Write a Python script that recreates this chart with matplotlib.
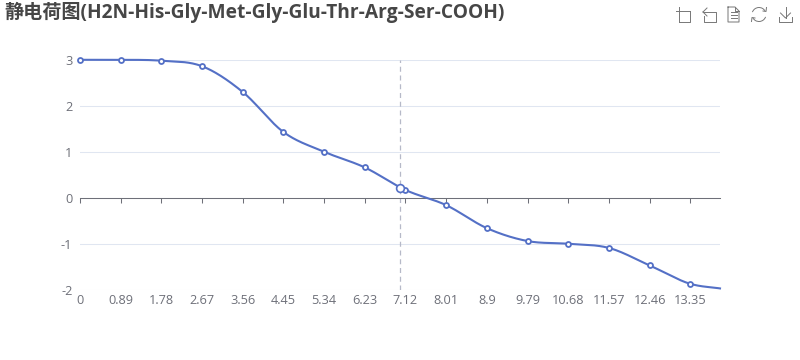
import numpy as np
import matplotlib
matplotlib.use("Agg")
import matplotlib.pyplot as plt
from matplotlib.patches import Arc
from matplotlib.lines import Line2D

plt.rcParams['font.family'] = ['Open Sans', 'Noto Sans CJK SC', 'DejaVu Sans']
plt.rcParams['axes.unicode_minus'] = False

title = "静电荷图(H2N-His-Gly-Met-Gly-Glu-Thr-Arg-Ser-COOH)"
ph = [0, 0.89, 1.78, 2.67, 3.56, 4.45, 5.34, 6.23, 7.12, 8.01, 8.9, 9.79, 10.68, 11.57, 12.46, 13.35, 14]
charge = [3, 3.0, 2.98, 2.86, 2.30, 1.43, 1.0, 0.66, 0.17, -0.16, -0.66, -0.94, -1.0, -1.09, -1.47, -1.87, -1.97]
tick_labels = ["0", "0.89", "1.78", "2.67", "3.56", "4.45", "5.34", "6.23", "7.12", "8.01", "8.9", "9.79", "10.68", "11.57", "12.46", "13.35"]
y_ticks = [-2, -1, 0, 1, 2, 3]
hover_ph = 7.0
hover_charge = 0.22

LINE = "#5470c6"
GREY = "#6e7079"
GRID = "#e0e6f1"
W, H = 800, 360

fig = plt.figure(figsize=(W / 100, H / 100), dpi=100)
ax = fig.add_axes([80 / W, 1 - 289.8 / H, 640 / W, 230 / H])
ax.set_xlim(0, 14)
ax.set_ylim(-2, 3)

for s in ["top", "left", "right"]:
    ax.spines[s].set_visible(False)
ax.spines["bottom"].set_position(("data", 0))
ax.spines["bottom"].set_color(GREY)
ax.spines["bottom"].set_linewidth(0.75)

ax.set_yticks(y_ticks)
ax.set_xticks(ph[:-1])
ax.set_xticklabels(tick_labels)
ax.tick_params(axis="y", length=0, pad=5.5, labelsize=9.2, labelcolor=GREY)
ax.tick_params(axis="x", length=3.6, width=0.75, color=GREY, pad=65.5, labelsize=9.2, labelcolor=GREY)
ax.grid(axis="y", color=GRID, linewidth=0.75)
ax.set_axisbelow(True)

# smooth line: bezier segments sampled finely, agg's own curve flattening looks kinked
x = np.array(ph)
y = np.array(charge)
dx = np.gradient(x)
dy = np.gradient(y, x) * dx
k = 1 / 3
t = np.linspace(0, 1, 40)[:, None]
curve = []
for i in range(len(x) - 1):
    p0 = np.array([x[i], y[i]])
    p1 = p0 + k * np.array([dx[i], dy[i]])
    p3 = np.array([x[i + 1], y[i + 1]])
    p2 = p3 - k * np.array([dx[i + 1], dy[i + 1]])
    curve.append((1 - t) ** 3 * p0 + 3 * (1 - t) ** 2 * t * p1 + 3 * (1 - t) * t ** 2 * p2 + t ** 3 * p3)
curve = np.vstack(curve)
ax.plot(curve[:, 0], curve[:, 1], color=LINE, linewidth=1.5, zorder=3, clip_on=False)

ax.axvline(hover_ph, color="#b6b9c8", linewidth=0.9, linestyle=(0, (4, 3)), zorder=2)
ax.plot(ph[:-1], charge[:-1], linestyle="none", marker="o", markersize=3.6, markerfacecolor="white",
        markeredgecolor=LINE, markeredgewidth=1.3, zorder=4, clip_on=False)
ax.plot([hover_ph], [hover_charge], linestyle="none", marker="o", markersize=5.6, markerfacecolor="white",
        markeredgecolor=LINE, markeredgewidth=1.2, zorder=5)

fig.text(4 / W, 1 - 12 / H, title, fontsize=13.8, fontweight="bold", color="#464646", va="center", ha="left")

# toolbox icons, drawn in pixel coordinates
tb = fig.add_axes([0, 0, 1, 1], facecolor="none")
tb.set_xlim(0, W)
tb.set_ylim(H, 0)
tb.axis("off")
ICON = "#777777"


def seg(xs, ys):
    tb.add_line(Line2D(xs, ys, color=ICON, linewidth=0.7))


# zoom
seg([676, 690], [11, 11])
seg([679, 679], [7, 22])
seg([679, 690, 690], [22, 22, 11])
# zoom back
seg([703, 707], [12, 8])
seg([703, 707], [12, 16])
seg([703, 716, 716, 704, 704], [12, 12, 22, 22, 16])
# data view
seg([728, 735, 739, 739, 728, 728], [7, 7, 11, 22, 22, 7])
seg([735, 735, 739], [7, 11, 11])
for yy in [12, 15, 18]:
    seg([730.5, 736.5], [yy, yy])
# restore
tb.add_patch(Arc((759, 14.5), 14, 14, theta1=200, theta2=330, color=ICON, linewidth=0.7))
tb.add_patch(Arc((759, 14.5), 14, 14, theta1=20, theta2=150, color=ICON, linewidth=0.7))
seg([763, 766, 766.5], [11, 11.5, 7.5])
seg([751.5, 752, 755], [21.5, 17.5, 18])
# save
seg([785.5, 785.5], [7, 18])
seg([780.5, 785.5, 790.5], [13, 18, 13])
seg([779, 779, 792, 792], [17, 22, 22, 17])

fig.savefig("out.png", dpi=100)
